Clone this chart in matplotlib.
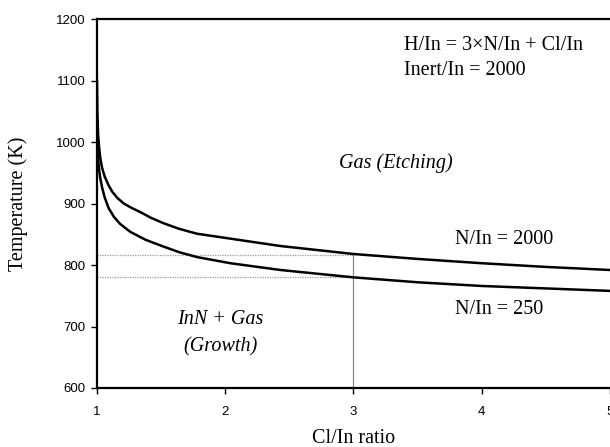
import numpy as np
import matplotlib
matplotlib.use("Agg")
import matplotlib.pyplot as plt

# N/In = 2000 (upper curve)
ratio_2000 = [1.0, 1.003, 1.008, 1.015, 1.025, 1.04, 1.06, 1.09, 1.12, 1.16, 1.21, 1.27, 1.34, 1.42, 1.52, 1.64, 1.78, 2.04, 2.43, 3.0, 3.5, 4.0, 4.5, 5.0]
temp_2000 = [1100, 1050, 1015, 995, 975, 958, 944, 930, 919, 909, 900, 893, 886, 877, 868, 859, 851, 843, 831, 818, 810, 803, 797, 792]

# N/In = 250 (lower curve)
ratio_250 = [1.0, 1.003, 1.008, 1.015, 1.025, 1.04, 1.06, 1.09, 1.13, 1.18, 1.26, 1.38, 1.52, 1.64, 1.78, 2.04, 2.43, 3.0, 3.5, 4.0, 4.5, 5.0]
temp_250 = [1040, 1000, 975, 958, 942, 926, 910, 893, 879, 867, 854, 841, 830, 821, 813, 803, 792, 780, 772, 766, 762, 758]

# guide lines at Cl/In = 3
guide_ratio = 3
guide_temps = [817, 780]

x_ticks = [1, 2, 3, 4, 5]
y_ticks = [600, 700, 800, 900, 1000, 1100, 1200]

serif = "Liberation Serif"
sans = "Liberation Sans"
fs = 14.5

fig = plt.figure(figsize=(6.10, 4.47), dpi=100)
ax = fig.add_axes([0.159, 0.132, 0.841, 0.825])

for t in guide_temps:
    ax.plot([1, guide_ratio], [t, t], color="#999999", lw=0.9, ls=(0, (1, 1)), zorder=1)
ax.plot([guide_ratio, guide_ratio], [600, guide_temps[0]], color="#888888", lw=0.9, zorder=1)

ax.plot(ratio_2000, temp_2000, color="black", lw=1.8, zorder=3)
ax.plot(ratio_250, temp_250, color="black", lw=1.8, zorder=3)

ax.set_xlim(1, 5)
ax.set_ylim(600, 1200)
ax.set_xticks(x_ticks)
ax.set_yticks(y_ticks)
ax.tick_params(direction="out", length=4, width=1, labelsize=9.5)
for lab in ax.get_xticklabels() + ax.get_yticklabels():
    lab.set_family(sans)
ax.tick_params(axis="x", pad=9)
ax.tick_params(axis="y", pad=4)

for side in ["left", "bottom", "top"]:
    ax.spines[side].set_linewidth(1.6)
ax.spines["right"].set_visible(False)

ax.set_xlabel("Cl/In ratio", family=serif, fontsize=fs, labelpad=8)
ax.set_ylabel("Temperature (K)", family=serif, fontsize=fs, labelpad=20)

ax.text(3.39, 1158, "H/In = 3×N/In + Cl/In", family=serif, fontsize=fs, va="center")
ax.text(3.39, 1117, "Inert/In = 2000", family=serif, fontsize=fs, va="center")
ax.text(3.33, 966, "Gas (Etching)", family=serif, style="italic", fontsize=fs, ha="center", va="center")
ax.text(3.79, 842, "N/In = 2000", family=serif, fontsize=fs, va="center")
ax.text(3.79, 727, "N/In = 250", family=serif, fontsize=fs, va="center")
ax.text(1.96, 711, "InN + Gas", family=serif, style="italic", fontsize=fs, ha="center", va="center")
ax.text(1.96, 667, "(Growth)", family=serif, style="italic", fontsize=fs, ha="center", va="center")

fig.savefig("out.png", dpi=100)
